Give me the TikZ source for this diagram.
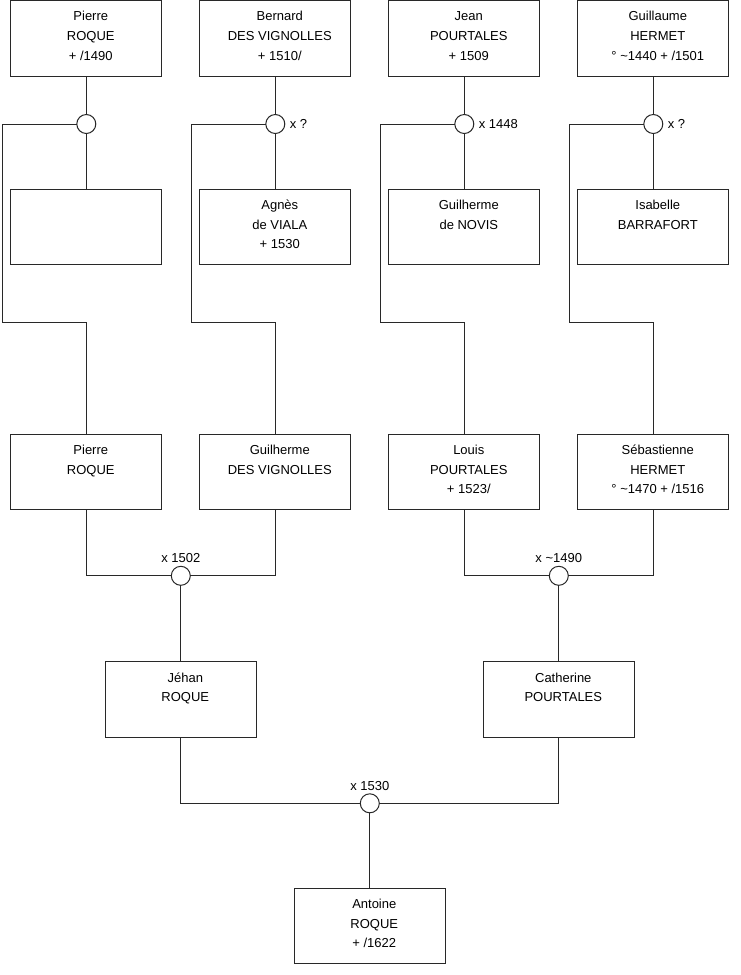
\documentclass[tikz,border=0pt]{standalone}
\usepackage{fontspec}
\setmainfont{Liberation Sans}
\usetikzlibrary{calc,positioning}
\definecolor{famline}{RGB}{40,40,40}
\tikzset{
  famperson/.style={draw=famline, line width=1pt, minimum width=151pt, minimum height=75.5pt, inner sep=0pt, outer sep=0pt},
  famwed/.style={draw=famline, line width=1pt, circle, fill=white, minimum size=19pt, inner sep=0pt, outer sep=0pt},
  famlink/.style={draw=famline, line width=1pt},
  famnote/.style={inner sep=2pt, outer sep=0pt}
}
\newcommand{\famname}[1]{\hspace*{9pt}\parbox[c][75.5pt][t]{142pt}{\centering\vspace*{6.4pt}\strut#1}}

\begin{document}
\begin{tikzpicture}[x=1pt, y=1pt, font=\fontsize{13}{19.7}\selectfont]
  \useasboundingbox (0,0) rectangle (740,-975);
  % great-grandparents
  \node[famperson] (p1) at (86.3,-38.25) {\famname{Pierre\\ROQUE\\+ /1490}};
  \node[famperson, right=38pt of p1] (p2) {\famname{Bernard\\DES VIGNOLLES\\+ 1510/}};
  \node[famperson, right=38pt of p2] (p3) {\famname{Jean\\POURTALES\\+ 1509}};
  \node[famperson, right=38pt of p3] (p4) {\famname{Guillaume\\HERMET\\° \textasciitilde1440 + /1501}};
  \node[famperson, below=113.3pt of p1] (s1) {\famname{}};
  \node[famperson, below=113.3pt of p2] (s2) {\famname{Agnès\\de VIALA\\+ 1530}};
  \node[famperson, below=113.3pt of p3] (s3) {\famname{Guilherme\\de NOVIS}};
  \node[famperson, below=113.3pt of p4] (s4) {\famname{Isabelle\\BARRAFORT}};
  \node[famwed, below=38.5pt of p1] (w1) {};
  \node[famwed, below=38.5pt of p2] (w2) {};
  \node[famwed, below=38.5pt of p3] (w3) {};
  \node[famwed, below=38.5pt of p4] (w4) {};
  \node[famnote, right=3pt of w2] (x2) {x ?};
  \node[famnote, right=3pt of w3] (x3) {x 1448};
  \node[famnote, right=3pt of w4] (x4) {x ?};
  % grandparents
  \node[famperson, below=169.5pt of s1] (c1) {\famname{Pierre\\ROQUE}};
  \node[famperson, below=169.5pt of s2] (c2) {\famname{Guilherme\\DES VIGNOLLES}};
  \node[famperson, below=169.5pt of s3] (c3) {\famname{Louis\\POURTALES\\+ 1523/}};
  \node[famperson, below=169.5pt of s4] (c4) {\famname{Sébastienne\\HERMET\\° \textasciitilde1470 + /1516}};
  \node[famwed] (w5) at ($(c1.south)!.5!(c2.south)+(0,-66)$) {};
  \node[famwed] (w6) at ($(c3.south)!.5!(c4.south)+(0,-66)$) {};
  \node[famnote, above=1.5pt of w5] (x5) {x 1502};
  \node[famnote, above=1.5pt of w6] (x6) {x \textasciitilde1490};
  % parents and child
  \node[famperson, below=76.5pt of w5] (g1) {\famname{Jéhan\\ROQUE}};
  \node[famperson, below=76.5pt of w6] (g2) {\famname{Catherine\\POURTALES}};
  \node[famwed] (w7) at ($(g1.south)!.5!(g2.south)+(0,-66)$) {};
  \node[famnote, above=1.5pt of w7] (x7) {x 1530};
  \node[famperson, below=75.5pt of w7] (a1) {\famname{Antoine\\ROQUE\\+ /1622}};

  \foreach \n in {1,2,3,4}{
    \draw[famlink] (p\n) -- (w\n) -- (s\n);
    \draw[famlink] (w\n.west) -- ++(-74.5,0) -- ++(0,-198) -| (c\n.north);
  }
  \draw[famlink] (c1.south) |- (w5.west);
  \draw[famlink] (c2.south) |- (w5.east);
  \draw[famlink] (c3.south) |- (w6.west);
  \draw[famlink] (c4.south) |- (w6.east);
  \draw[famlink] (w5) -- (g1);
  \draw[famlink] (w6) -- (g2);
  \draw[famlink] (g1.south) |- (w7.west);
  \draw[famlink] (g2.south) |- (w7.east);
  \draw[famlink] (w7) -- (a1);
\end{tikzpicture}
\end{document}
